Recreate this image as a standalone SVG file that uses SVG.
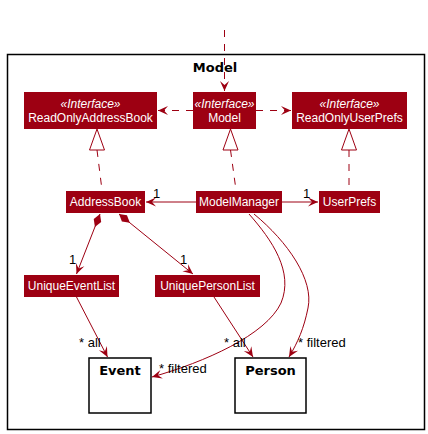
<svg xmlns="http://www.w3.org/2000/svg" width="428" height="434" viewBox="0 0 428 434">
<style>
.n{fill:#9D0012}
.t{fill:#fff;font-family:"Liberation Sans",Arial,sans-serif;font-size:12px;text-anchor:middle}
.st{font-style:italic}
.b{fill:#000;font-family:"DejaVu Sans",sans-serif;font-weight:bold;font-size:13px;text-anchor:middle}
.l{fill:#000;font-family:"Liberation Sans",Arial,sans-serif;font-size:13px}
.e{fill:none;stroke:#9D0012;stroke-width:1}
.d{stroke-dasharray:7,7}
.box{fill:#fff;stroke:#000;stroke-width:1.5}
</style>
<defs>
<marker id="a" viewBox="-11 -5 12 10" refX="0" refY="0" markerWidth="12" markerHeight="10" markerUnits="userSpaceOnUse" orient="auto">
<path d="M0,0 L-10,-4.5 L-6,0 L-10,4.5 Z" fill="#9D0012"/>
</marker>
<marker id="dm" viewBox="-1 -5 16 10" refX="0" refY="0" markerWidth="16" markerHeight="10" markerUnits="userSpaceOnUse" orient="auto">
<path d="M0,0 L7,-4 L14,0 L7,4 Z" fill="#9D0012"/>
</marker>
</defs>
<g id="package">
<rect x="7.5" y="54.5" width="417" height="375" fill="#fff" stroke="#000" stroke-width="1.5"/>
<text x="215" y="72" class="b">Model</text>
</g>
<g id="ReadOnlyAddressBook">
<rect class="n" x="24" y="92" width="133" height="37"/>
<text class="t st" x="90.5" y="108">«Interface»</text>
<text class="t" x="90.5" y="122">ReadOnlyAddressBook</text>
</g>
<g id="Model">
<rect class="n" x="193" y="92" width="63" height="37"/>
<text class="t st" x="224.5" y="108">«Interface»</text>
<text class="t" x="224.5" y="122">Model</text>
</g>
<g id="ReadOnlyUserPrefs">
<rect class="n" x="292" y="92" width="115" height="37"/>
<text class="t st" x="349.5" y="108">«Interface»</text>
<text class="t" x="349.5" y="122">ReadOnlyUserPrefs</text>
</g>
<g id="AddressBook">
<rect class="n" x="66" y="191" width="79" height="22"/>
<text class="t" x="105.5" y="206">AddressBook</text>
</g>
<g id="ModelManager">
<rect class="n" x="196" y="191" width="86" height="22"/>
<text class="t" x="239" y="206">ModelManager</text>
</g>
<g id="UserPrefs">
<rect class="n" x="319" y="191" width="61" height="22"/>
<text class="t" x="349.5" y="206">UserPrefs</text>
</g>
<g id="UniqueEventList">
<rect class="n" x="24" y="275" width="95" height="22"/>
<text class="t" x="71.5" y="290">UniqueEventList</text>
</g>
<g id="UniquePersonList">
<rect class="n" x="155" y="275" width="105" height="22"/>
<text class="t" x="207.5" y="290">UniquePersonList</text>
</g>
<g id="Event">
<rect class="box" x="89" y="358" width="62" height="55"/>
<text class="b" x="120" y="375">Event</text>
</g>
<g id="Person">
<rect class="box" x="235" y="358" width="71" height="55"/>
<text class="b" x="270.5" y="375">Person</text>
</g>
<g id="connectors">
<path class="e d" d="M224.5,30 L224.5,91" marker-end="url(#a)"/>
<path class="e d" d="M193,110.5 L158,110.5" marker-end="url(#a)"/>
<path class="e d" d="M256,110.5 L291,110.5" marker-end="url(#a)"/>
<path class="e d" d="M97,150 L102,190"/>
<polygon points="97,129 89.5,150 104.5,150" fill="#fff" stroke="#9D0012"/>
<path class="e d" d="M230.5,150 L236,190"/>
<polygon points="230.5,129 223,150 238,150" fill="#fff" stroke="#9D0012"/>
<path class="e d" d="M349,150 L349,190"/>
<polygon points="349,129 341.5,150 356.5,150" fill="#fff" stroke="#9D0012"/>
<path class="e" d="M196,202 L146,202" marker-end="url(#a)"/>
<path class="e" d="M282,202 L318,202" marker-end="url(#a)"/>
<path class="e" d="M100,214 L76.5,274" marker-start="url(#dm)" marker-end="url(#a)"/>
<path class="e" d="M119,214 L193,274" marker-start="url(#dm)" marker-end="url(#a)"/>
<path class="e" d="M76.5,297 L107.5,357" marker-end="url(#a)"/>
<path class="e" d="M214,297 L253,357" marker-end="url(#a)"/>
<path class="e" d="M249,214 C272,240 294,272 281,303 C266,335 205,362 152,377" marker-end="url(#a)"/>
<path class="e" d="M254,214 C288,242 314,280 308,308 C304,328 298,342 289,357" marker-end="url(#a)"/>
<text class="l" x="153" y="198">1</text>
<text class="l" x="303" y="198">1</text>
<text class="l" x="69" y="264">1</text>
<text class="l" x="180" y="264">1</text>
<text class="l" x="79" y="347">* all</text>
<text class="l" x="224" y="347">* all</text>
<text class="l" x="159" y="373">* filtered</text>
<text class="l" x="298" y="347">* filtered</text>
</g>
</svg>
